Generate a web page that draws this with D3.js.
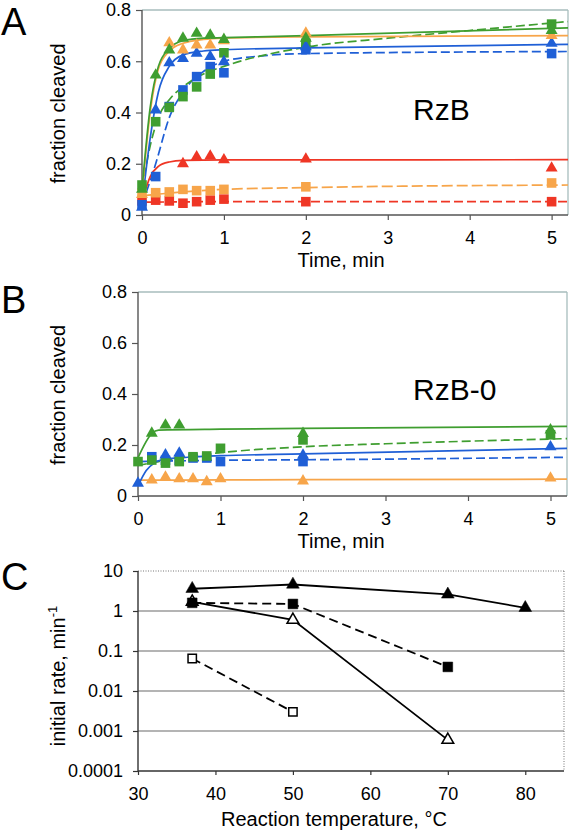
<!DOCTYPE html>
<html><head><meta charset="utf-8">
<script src="https://cdn.jsdelivr.net/npm/d3@7"></script>
<style>
html,body{margin:0;padding:0;background:#fff;}
svg{display:block;font-family:"Liberation Sans",Arial,sans-serif;}
</style></head>
<body><svg id="c" width="573" height="832"></svg>
<script>
// ---------- DATA ----------
const timePoints = [0, 0.167, 0.333, 0.5, 0.667, 0.833, 1, 2, 5];
const xTicksAB = [0, 1, 2, 3, 4, 5];
const yTicksAB = [0, 0.2, 0.4, 0.6, 0.8];
const yTickLabelsAB = ["0", "0.2", "0.4", "0.6", "0.8"];

// Panel A (RzB) measured points
const greenTriA  = [0.10, 0.546, 0.644, 0.69, 0.709, 0.702, 0.685, 0.69, 0.72];
const orangeTriA = [0.08, null, 0.672, 0.644, 0.663, 0.663, 0.68, 0.71, 0.70];
const blueTriA   = [0.03, 0.41, 0.594, 0.611, 0.631, 0.618, 0.598, 0.656, 0.67];
const redTriA    = [null, null, null, 0.20, 0.227, 0.23, 0.215, 0.218, 0.183];
const greenSqA   = [0.117, 0.364, 0.42, 0.462, 0.50, 0.55, 0.633, 0.67, 0.745];
const blueSqA    = [0.04, 0.15, 0.423, 0.488, 0.54, 0.579, 0.555, 0.645, 0.63];
const orangeSqA  = [0.085, 0.087, 0.09, 0.10, 0.095, 0.095, 0.10, 0.11, 0.125];
const redSqA     = [0.055, 0.058, 0.055, 0.046, 0.052, 0.058, 0.062, 0.052, 0.052];

// Panel A fitted curves as [time, fraction]
const fitGreenSolidA  = [[0,0.10],[0.1,0.42],[0.2,0.58],[0.333,0.65],[0.5,0.68],[0.75,0.69],[1,0.692],[2,0.70],[5.2,0.73]];
const fitOrangeSolidA = [[0,0.08],[0.1,0.40],[0.2,0.57],[0.333,0.64],[0.5,0.67],[0.75,0.685],[1,0.69],[2,0.695],[5.2,0.70]];
const fitBlueSolidA   = [[0,0.04],[0.1,0.30],[0.2,0.48],[0.333,0.58],[0.5,0.625],[0.75,0.64],[1,0.645],[2,0.652],[5.2,0.666]];
const fitRedSolidA    = [[0,0.05],[0.1,0.15],[0.2,0.19],[0.333,0.207],[0.5,0.213],[1,0.215],[2,0.215],[5.2,0.216]];
const fitGreenDashA   = [[0,0.10],[0.1,0.27],[0.2,0.38],[0.333,0.45],[0.5,0.50],[0.75,0.55],[1,0.58],[2,0.655],[3,0.69],[4,0.72],[5.2,0.755]];
const fitBlueDashA    = [[0,0.04],[0.167,0.20],[0.333,0.38],[0.5,0.48],[0.75,0.56],[1,0.60],[1.5,0.622],[2,0.63],[5.2,0.638]];
const fitOrangeDashA  = [[0,0.075],[0.5,0.09],[1,0.10],[2,0.107],[5.2,0.117]];
const fitRedDashA     = [[0,0.05],[1,0.052],[2,0.052],[5.2,0.052]];

// Panel B (RzB-0) measured points
const greenTriB  = [null, 0.246, 0.278, 0.278, null, null, null, 0.245, 0.259];
const blueTriB   = [0.05, null, 0.161, 0.168, null, null, null, 0.16, 0.193];
const orangeTriB = [null, 0.063, 0.074, 0.067, 0.067, 0.056, 0.067, 0.059, 0.07];
const greenSqB   = [0.135, 0.141, 0.129, 0.135, 0.154, 0.157, 0.187, 0.22, 0.24];
const blueSqB    = [null, 0.154, 0.14, 0.14, 0.149, 0.149, 0.135, 0.135, null];

// Panel B fitted curves
const fitGreenSolidB  = [[0,0.15],[0.167,0.245],[0.25,0.258],[1,0.262],[2,0.265],[5.2,0.273]];
const fitGreenDashB   = [[0,0.12],[0.167,0.13],[0.5,0.15],[1,0.17],[2,0.193],[3,0.205],[5.2,0.225]];
const fitBlueSolidB   = [[0,0.04],[0.1,0.10],[0.2,0.13],[0.333,0.145],[0.6,0.152],[1,0.158],[2,0.165],[5.2,0.187]];
const fitBlueDashB    = [[0,0.135],[1,0.14],[2,0.142],[5.2,0.152]];
const fitOrangeSolidB = [[0,0.062],[1,0.063],[2,0.064],[5.2,0.066]];

// Panel C
const temperatures = [37, 50, 70, 80];
const filledTriC = [3.6, 4.6, 2.6, 1.2];
const filledSqC  = [1.6, 1.5, 0.04, null];
const openTriC   = [1.7, 0.6, 0.0006, null];
const openSqC    = [0.065, 0.003, null, null];
const xTicksC = [30, 40, 50, 60, 70, 80];
const yTicksC = [0.0001, 0.001, 0.01, 0.1, 1, 10];
const yTickLabelsC = ["0.0001", "0.001", "0.01", "0.1", "1", "10"];

// ---------- DRAW ----------
const svg = d3.select("#c");
const COL = {green:"#3f9e30", orange:"#f7a54a", blue:"#1f5fd6", red:"#ef3625"};
const triSym = d3.symbol().type(d3.symbolTriangle).size(62);
const sqSym  = d3.symbol().type(d3.symbolSquare).size(92);

function panelAB(g, x, y, label, tag, tagY, labelY) {
  const [x0, x1] = x.range(), [y0, y1] = y.range();
  g.append("line").attr("x1", x0).attr("x2", x1).attr("y1", y1).attr("y2", y1).attr("stroke", "#a7bdbd").attr("stroke-width", 1.3);
  g.append("line").attr("x1", x1).attr("x2", x1).attr("y1", y1).attr("y2", y0).attr("stroke", "#a7bdbd").attr("stroke-width", 1.3);
  const ya = g.append("g").attr("transform", `translate(${x0},0)`)
    .call(d3.axisLeft(y).tickValues(yTicksAB).tickFormat((d,i)=>yTickLabelsAB[i]).tickSize(6).tickPadding(5));
  const xa = g.append("g").attr("transform", `translate(0,${y0})`)
    .call(d3.axisBottom(x).tickValues(xTicksAB).tickFormat(d=>String(d)).tickSize(5).tickPadding(11));
  [ya, xa].forEach(a => {
    a.selectAll("path.domain").attr("stroke", "#555").attr("stroke-width", 1.4);
    a.selectAll(".tick line").attr("stroke", "#555").attr("stroke-width", 1.2);
    a.selectAll("text").attr("font-size", 18).attr("font-family", "Liberation Sans, Arial, sans-serif").attr("fill", "#000");
  });
  xa.select("path.domain").attr("d", `M${x0},0H${x1}`);
  ya.select("path.domain").attr("d", `M0,${y0}V${y1}`);
  g.append("text").attr("x", 341).attr("y", y0 + 52).attr("text-anchor", "middle").attr("font-size", 20).text("Time, min");
  g.append("text").attr("transform", `translate(65,${(y0+y1)/2+1}) rotate(-90)`).attr("text-anchor", "middle").attr("font-size", 20).text("fraction cleaved");
  g.append("text").attr("x", 413).attr("y", tagY).attr("font-size", 30).text(tag);
  g.append("text").attr("x", 1).attr("y", labelY).attr("font-size", 38).text(label);
}

function fitLine(g, x, y, pts, color, dash) {
  const line = d3.line().x(d => x(d[0])).y(d => y(d[1])).curve(d3.curveMonotoneX);
  g.append("path").attr("d", line(pts)).attr("fill", "none").attr("stroke", color)
    .attr("stroke-width", 1.7).attr("stroke-dasharray", dash || null);
}
function marks(g, x, y, vals, color, sym) {
  const pts = timePoints.map((t, i) => [t, vals[i]]).filter(d => d[1] != null);
  g.selectAll(null).data(pts).enter().append("path")
    .attr("d", sym).attr("transform", d => `translate(${x(d[0])},${y(d[1])})`)
    .attr("fill", color);
}

// Panel A
const xA = d3.scaleLinear().domain([0, 5.2]).range([142, 568]);
const yA = d3.scaleLinear().domain([0, 0.8]).range([215, 10]);
const gA = svg.append("g");
panelAB(gA, xA, yA, "A", "RzB", 120, 35);
fitLine(gA, xA, yA, fitRedDashA, COL.red, "9,4");
fitLine(gA, xA, yA, fitOrangeDashA, COL.orange, "11,4");
fitLine(gA, xA, yA, fitBlueDashA, COL.blue, "9,4");
fitLine(gA, xA, yA, fitGreenDashA, COL.green, "9,4");
fitLine(gA, xA, yA, fitRedSolidA, COL.red);
fitLine(gA, xA, yA, fitBlueSolidA, COL.blue);
fitLine(gA, xA, yA, fitOrangeSolidA, COL.orange);
fitLine(gA, xA, yA, fitGreenSolidA, COL.green);
marks(gA, xA, yA, redSqA, COL.red, sqSym);
marks(gA, xA, yA, orangeSqA, COL.orange, sqSym);
marks(gA, xA, yA, blueSqA, COL.blue, sqSym);
marks(gA, xA, yA, greenSqA, COL.green, sqSym);
marks(gA, xA, yA, redTriA, COL.red, triSym);
marks(gA, xA, yA, blueTriA, COL.blue, triSym);
marks(gA, xA, yA, orangeTriA, COL.orange, triSym);
marks(gA, xA, yA, greenTriA, COL.green, triSym);

// Panel B
const xB = d3.scaleLinear().domain([0, 5.2]).range([138, 567]);
const yB = d3.scaleLinear().domain([0, 0.8]).range([496, 292]);
const gB = svg.append("g");
panelAB(gB, xB, yB, "B", "RzB-0", 400, 313);
fitLine(gB, xB, yB, fitOrangeSolidB, COL.orange);
fitLine(gB, xB, yB, fitBlueDashB, COL.blue, "9,4");
fitLine(gB, xB, yB, fitGreenDashB, COL.green, "9,4");
fitLine(gB, xB, yB, fitBlueSolidB, COL.blue);
fitLine(gB, xB, yB, fitGreenSolidB, COL.green);
marks(gB, xB, yB, orangeTriB, COL.orange, triSym);
marks(gB, xB, yB, blueSqB, COL.blue, sqSym);
marks(gB, xB, yB, blueTriB, COL.blue, triSym);
marks(gB, xB, yB, greenSqB, COL.green, sqSym);
marks(gB, xB, yB, greenTriB, COL.green, triSym);

// Panel C
const xC = d3.scaleLinear().domain([30, 85]).range([138, 564]);
const yC = d3.scaleLog().domain([0.0001, 10]).range([771, 571]);
const gC = svg.append("g");
gC.selectAll(null).data(yTicksC.slice(1, 5)).enter().append("line")
  .attr("x1", 138).attr("x2", 564).attr("y1", d => yC(d)).attr("y2", d => yC(d))
  .attr("stroke", "#6a6a6a").attr("stroke-width", 1.1);
gC.append("line").attr("x1", 138).attr("x2", 564).attr("y1", yC(10)).attr("y2", yC(10))
  .attr("stroke", "#777").attr("stroke-dasharray", "1,1.5");
gC.append("line").attr("x1", 564).attr("x2", 564).attr("y1", yC(10)).attr("y2", yC(0.0001))
  .attr("stroke", "#777").attr("stroke-dasharray", "1,1.5");
const yaC = gC.append("g").attr("transform", "translate(138,0)")
  .call(d3.axisLeft(yC).tickValues(yTicksC).tickFormat((d,i)=>yTickLabelsC[i]).tickSize(5).tickPadding(10));
const xaC = gC.append("g").attr("transform", "translate(0,771)")
  .call(d3.axisBottom(xC).tickValues(xTicksC).tickFormat(d=>String(d)).tickSize(4).tickPadding(12));
[yaC, xaC].forEach(a => {
  a.selectAll("path.domain").attr("stroke", "#333").attr("stroke-width", 1.4);
  a.selectAll(".tick line").attr("stroke", "#333").attr("stroke-width", 1.2);
  a.selectAll("text").attr("font-size", 18).attr("font-family", "Liberation Sans, Arial, sans-serif").attr("fill", "#000");
});
xaC.select("path.domain").attr("d", "M138,0H564");
yaC.select("path.domain").attr("d", "M0,771V571");

function seriesC(vals, dash, filled, sym) {
  const pts = temperatures.map((t, i) => [t, vals[i]]).filter(d => d[1] != null);
  const line = d3.line().x(d => xC(d[0])).y(d => yC(d[1]));
  gC.append("path").attr("d", line(pts)).attr("fill", "none").attr("stroke", "#000")
    .attr("stroke-width", 1.8).attr("stroke-dasharray", dash || null);
  gC.selectAll(null).data(pts).enter().append("path").attr("d", sym)
    .attr("transform", d => `translate(${xC(d[0])},${yC(d[1])})`)
    .attr("fill", filled ? "#000" : "#fff").attr("stroke", "#000").attr("stroke-width", filled ? 0.5 : 1.5);
}
seriesC(openSqC, "9,5", false, d3.symbol().type(d3.symbolSquare).size(70));
seriesC(openTriC, null, false, d3.symbol().type(d3.symbolTriangle).size(60));
seriesC(filledSqC, "9,5", true, d3.symbol().type(d3.symbolSquare).size(95));
seriesC(filledTriC, null, true, d3.symbol().type(d3.symbolTriangle).size(70));

gC.append("text").attr("x", 334).attr("y", 826).attr("text-anchor", "middle").attr("font-size", 20).text("Reaction temperature, °C");
const yl = gC.append("text").attr("transform", "translate(65,676) rotate(-90)").attr("text-anchor", "middle").attr("font-size", 20);
yl.append("tspan").text("initial rate, min");
yl.append("tspan").attr("font-size", 13).attr("dy", -8).text("-1");
gC.append("text").attr("x", 1).attr("y", 590).attr("font-size", 38).text("C");
</script></body></html>
